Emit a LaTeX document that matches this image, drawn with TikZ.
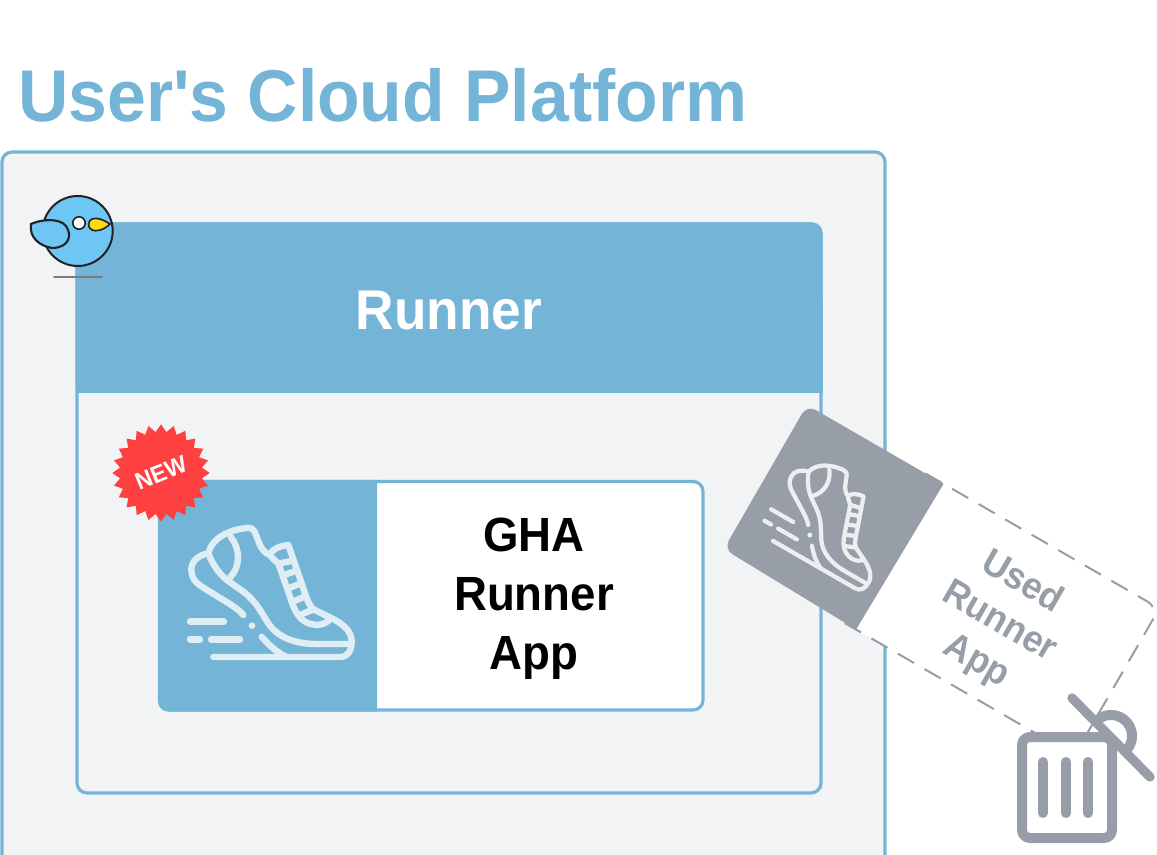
\documentclass[tikz,border=0pt]{standalone}
\usepackage{fontspec}
\setmainfont{Liberation Sans}
\newfontfamily\rb{Liberation Sans}[FakeStretch=0.95]
\usetikzlibrary{shapes.geometric}
\definecolor{cblue}{HTML}{74B5D7}
\definecolor{cbg}{HTML}{F1F3F5}
\definecolor{cgray}{HTML}{979EA8}
\definecolor{cbird}{HTML}{6EC6F5}
\definecolor{cbeak}{HTML}{FFD915}
\definecolor{cred}{HTML}{FF4040}
\definecolor{cink}{HTML}{222326}
\definecolor{cshoe}{HTML}{DFEEF5}
\definecolor{cshoeg}{HTML}{ECEEF0}
\tikzset{
  bigtext/.style={inner sep=0pt, align=center},
  shoeline/.style={line cap=round, line join=round},
  birdline/.style={draw=cink, line width=1.6pt},
  panel/.style={draw=cblue, line width=2.4pt, rounded corners=7.5pt},
}
\newcommand{\shoepic}[2]{%
  \begin{scope}[shift={(-58,-60)},scale=1/3,shoeline,draw=#1,line width=#2]
    \draw (340,711) -- (720,711) .. controls (745,711) and (755,690) .. (755,665)
      .. controls (755,630) and (725,610) .. (690,592) -- (640,568)
      .. controls (625,555) and (615,520) .. (605,490) -- (565,375)
      .. controls (535,378) and (515,390) .. (510,405)
      .. controls (482,395) and (477,365) .. (468,345)
      .. controls (462,325) and (450,322) .. (440,324)
      .. controls (385,330) and (335,355) .. (325,400)
      .. controls (295,405) and (273,425) .. (274,450)
      .. controls (276,480) and (290,490) .. (310,503) -- (375,543)
      .. controls (400,558) and (420,572) .. (430,585);
    \draw (325,400) .. controls (340,440) and (365,470) .. (390,487)
      -- (430,515) .. controls (470,545) and (485,580) .. (505,610)
      .. controls (535,655) and (590,672) .. (650,672) -- (750,672);
    \draw (385,478) .. controls (425,440) and (420,385) .. (392,350);
    \draw (485,650) .. controls (505,675) and (535,700) .. (560,711);
    \draw (510,405) .. controls (525,425) and (530,425) .. (535,430)
      -- (575,545) .. controls (590,590) and (610,612) .. (650,615)
      .. controls (670,615) and (685,605) .. (690,596);
    \draw (540,430) -- (578,422);
    \draw (552,465) -- (590,452);
    \draw (565,505) -- (603,490);
    \draw (578,545) -- (618,528);
    \draw (600,585) -- (640,568);
    \draw (270,605) -- (372,605);
    \draw (270,658) -- (300,658);
    \draw (333,658) -- (420,658);
    \fill[#1] (456,617) circle (10);
  \end{scope}}
\begin{document}
\begin{tikzpicture}[x=0.75pt,y=-0.75pt]
\useasboundingbox (0,0) rectangle (1157,855);
\fill[white] (0,0) rectangle (1157,855);

\node[bigtext, anchor=base west, text=cblue, font=\rb\fontsize{55}{60}\selectfont\bfseries] (title) at (18,122) {User's Cloud Platform};

% outer platform
\draw[panel, fill=cbg] (2,152) rectangle (885,870);

% runner box
\draw[panel, fill=cbg] (77,224) rectangle (821,793);
\fill[cblue, rounded corners=7.5pt] (75.5,222.5) -- (822.5,222.5) -- (822.5,393) -- (75.5,393) -- cycle;
\fill[cblue] (75.5,300) rectangle (822.5,393.5);
\node[bigtext, text=white, font=\rb\fontsize{42}{46}\selectfont\bfseries] (runner) at (449,311) {Runner};

% bird
\coordinate (birdc) at (77.7,231);
\draw[draw=cink, line width=1.5pt, fill=cbird] (birdc) circle (35);
\draw[birdline, fill=cbird] (31,224) .. controls (42,219) and (60,218) .. (66,226)
  .. controls (73,236) and (68,248) .. (52,248) .. controls (40,246) and (29,238) .. (31,224) -- cycle;
\draw[draw=cink, line width=1.2pt, fill=white] (79,223) circle (6.2);
\draw[draw=cink, line width=1.2pt, fill=cbeak] (110,224) .. controls (104,230) and (96,232) .. (92,230)
  .. controls (87,228) and (88,220) .. (92,219) .. controls (97,217) and (104,220) .. (110,224) -- cycle;
\draw[cink!60, line width=1.1pt, line cap=round] (54,277) -- (102,277);

% main card
\begin{scope}[shift={(158,480)}]
  \draw[panel, fill=white] (1.5,1.5) rectangle (545,230);
  \fill[cblue] (219,0) [rounded corners=7.5pt] -- (0,0) -- (0,231.5) [sharp corners] -- (219,231.5) -- cycle;
  \shoepic{cshoe}{4.8pt}
  \node[bigtext, text=black, font=\rb\fontsize{36}{44.25}\selectfont\bfseries] (gha) at (376,119) {GHA\\Runner\\App};
\end{scope}

% new badge
\node[star, star points=24, star point ratio=1.18, fill=cred, minimum size=73pt, inner sep=0pt] (badge) at (161,473) {};
\node[font=\rb\fontsize{18}{22}\selectfont\bfseries, text=white, rotate=22, inner sep=0pt] (newlabel) at (161,473) {NEW};

% used card
\begin{scope}[shift={(807,405)}, rotate=-30, scale=0.72, transform shape]
  \fill[white, rounded corners=7.5pt] (200,0) rectangle (565,236);
  \draw[cgray, line width=1.5pt, dash pattern=on 14pt off 9pt, rounded corners=10pt] (190,0) -- (565,0) -- (565,236) -- (190,236);
  \fill[cgray] (219,0) [rounded corners=7.5pt] -- (0,0) -- (0,231) [sharp corners] -- (215,236) -- cycle;
  \begin{scope}[shift={(-4,3)},scale=1.04]
    \shoepic{cshoeg}{3.2pt}
  \end{scope}
  \node[bigtext, text=cgray, font=\rb\fontsize{39}{47}\selectfont\bfseries] (used) at (382,128) {Used\\Runner\\App};
\end{scope}

% trash
\draw[cgray, line width=7.5pt, fill=white, line join=round, rounded corners=6pt] (1022,737) -- (1022,838) -- (1112,838) -- (1112,737) -- cycle;
\draw[cgray, line width=7.5pt, line cap=round] (1043,762) -- (1043,813);
\draw[cgray, line width=7.5pt, line cap=round] (1066,762) -- (1066,813);
\draw[cgray, line width=7.5pt, line cap=round] (1088,762) -- (1088,813);
\draw[cgray, line width=7.5pt] plot[domain=-135:45, samples=40, smooth] ({1111+21*cos(\x)},{736+21*sin(\x)});
\draw[cgray, line width=7pt, line cap=round] (1072,698) -- (1150,777);
\end{tikzpicture}
\end{document}
